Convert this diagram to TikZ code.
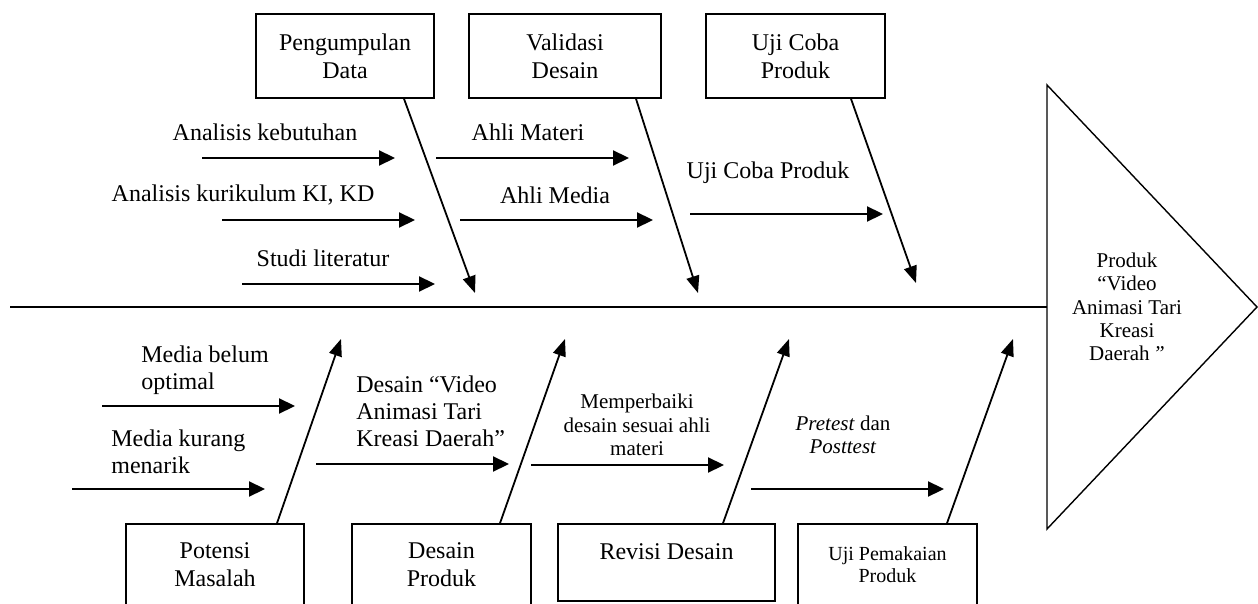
\documentclass[tikz,border=0pt]{standalone}
\usepackage{fontspec}
\setmainfont{Liberation Serif}
\usetikzlibrary{calc,positioning,shapes.geometric,arrows.meta}

\begin{document}
\begin{tikzpicture}[x=0.5pt,y=-0.5pt,
	box/.style={draw, line width=0.8pt, inner sep=0pt, align=center, minimum height=42pt, font=\fontsize{12}{14}\selectfont},
	lbl/.style={inner sep=0pt, font=\fontsize{12}{13.5}\selectfont},
	small/.style={inner sep=0pt, align=center, font=\fontsize{10.5}{11.7}\selectfont},
	cause/.style={line width=1.1pt, -{Triangle[length=8pt,width=7.5pt]}},
	bone/.style={line width=0.9pt, -{Triangle[length=8.5pt,width=6.5pt]}}]
	\clip (0,0) rectangle (1258,604);
	\node[box, minimum width=89pt] at (345,56) (pengumpulan) {Pengumpulan\\Data};
	\node[box, minimum width=96pt] at (565,56) (validasi) {Validasi\\Desain};
	\node[box, minimum width=89.5pt] at (795.5,56) (ujicoba) {Uji Coba\\Produk};
	\node[box, minimum width=89pt, minimum height=41pt] at (215,565) (potensi) {Potensi\\Masalah};
	\node[box, minimum width=89.5pt, minimum height=41pt] at (441.5,565) (desain) {Desain\\Produk};
	\node[box, minimum width=108.5pt, minimum height=38.5pt, text height=8pt, text depth=11pt] at (666.5,562.5) (revisi) {Revisi Desain};
	\node[box, minimum width=89.5pt, minimum height=41pt, font=\fontsize{10}{11}\selectfont] at (887.5,565) (pemakaian) {Uji Pemakaian\\Produk};
	\node[draw, line width=0.7pt, isosceles triangle, isosceles triangle stretches, minimum width=222pt, minimum height=105pt, inner sep=0pt, outer sep=0pt, anchor=lower side] at (1047,307) (produk) {};
	\node[small] at (1127,307) (produktext) {Produk\\“Video\\Animasi Tari\\Kreasi\\Daerah\,\textit{”}};
	\coordinate (tail) at (10,307);
	\draw[line width=0.7pt] (tail) -- (produk.lower side);
	\foreach \b/\dx/\tx/\ty in {pengumpulan/59/475/293, validasi/71/698/293, ujicoba/55.5/916/283}{
		\coordinate (\b tip) at (\tx,\ty);
		\draw[bone] ($(\b.south)+(\dx,0)$) -- (\b tip);
	}
	\foreach \b/\dx/\tx in {potensi/62/341, desain/58.5/565, revisi/56.5/789, pemakaian/59.5/1013}{
		\coordinate (\b tip) at (\tx,339);
		\draw[bone] ($(\b.north)+(\dx,0)$) -- (\b tip);
	}
	\foreach \n/\xa/\y in {kebutuhan/202/158, kurikulum/222/220, literatur/242/284, materi/436/158, media/460/220, ujiproduk/690/214, optimal/102/406, menarik/72/489, video/316/464, perbaiki/531/465, pretest/751/489}{
		\coordinate (\n s) at (\xa,\y);
		\coordinate (\n e) at (\xa+193,\y);
		\draw[cause] (\n s) -- (\n e);
	}
	\node[lbl] at (265,132) (kebutuhantext) {Analisis kebutuhan};
	\node[lbl] at (243,195) (kurikulumtext) {Analisis kurikulum KI, KD};
	\node[lbl] at (323,258) (literaturtext) {Studi literatur};
	\node[lbl] at (528,132) (materitext) {Ahli Materi};
	\node[lbl] at (555,195) (mediatext) {Ahli Media};
	\node[lbl] at (768,173) (ujiproduktext) {Uji Coba Produk};
	\node[lbl, anchor=west, align=left] at (141,370) (optimaltext) {Media belum\\optimal};
	\node[lbl, anchor=west, align=left] at (111,452) (menariktext) {Media kurang\\menarik};
	\node[lbl, anchor=west, align=left] at (356,411) (videotext) {Desain “Video\\Animasi Tari\\Kreasi Daerah”};
	\node[small] at (637,425) (perbaikitext) {Memperbaiki\\desain sesuai ahli\\materi};
	\node[small] at (843,435) (pretesttext) {\textit{Pretest} dan\\\textit{Posttest}};
\end{tikzpicture}
\end{document}
